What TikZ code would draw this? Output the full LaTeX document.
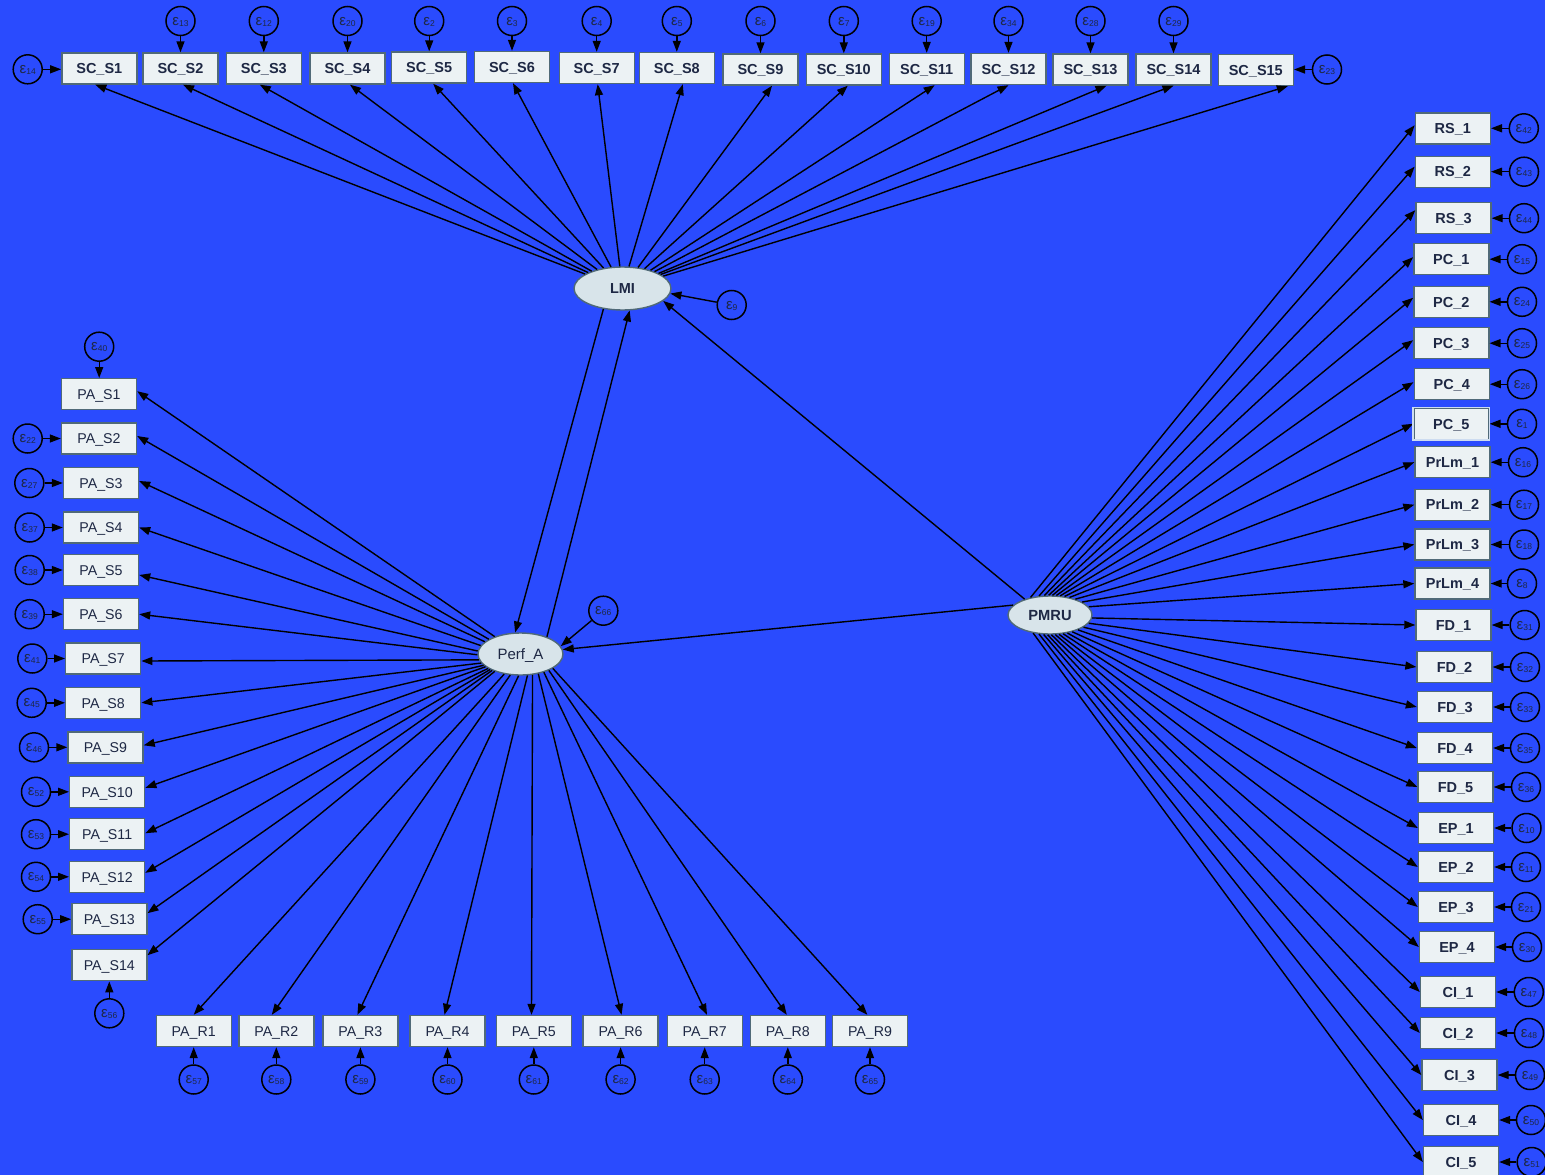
\documentclass[tikz,border=0pt]{standalone}
\usepackage{fontspec}
\setmainfont{Liberation Sans}
\usetikzlibrary{arrows.meta,shapes.geometric}

\definecolor{bg}{RGB}{42,75,254}
\definecolor{boxfill}{RGB}{236,242,244}
\definecolor{boxedge}{RGB}{80,106,120}
\definecolor{edgelight}{RGB}{205,220,240}
\definecolor{latfill}{RGB}{216,228,234}
\definecolor{ink}{RGB}{30,40,68}

% error term label: epsilon with a small index
\newcommand\errlab[1]{ε\raisebox{-1pt}{\fontsize{8.5}{8.5}\selectfont#1}}

\begin{document}
\begin{tikzpicture}[x=1pt,y=-1pt,
  obs/.style={rectangle,draw=boxedge,fill=boxfill,line width=1.4pt,
    minimum width=75pt,minimum height=31pt,inner sep=0pt,text=ink,
    text height=10.5pt,text depth=0pt,
    font=\fontsize{14.5}{16}\selectfont\bfseries},
  obsreg/.style={obs,font=\fontsize{14.2}{16}\selectfont},
  lat/.style={ellipse,draw=boxedge,fill=latfill,line width=1.4pt,inner sep=0pt,
    text=ink,text height=10.5pt,text depth=0pt},
  err/.style={circle,draw=black,line width=1.5pt,minimum size=29pt,inner sep=0pt,
    text=ink,text height=8pt,text depth=0pt,font=\fontsize{15}{15}\selectfont},
  reg/.style={draw=black,line width=1.4pt,-{Triangle[length=11pt,width=8pt]}},
]
\fill[bg] (0,0) rectangle (1545,1175);
\useasboundingbox (0,0) rectangle (1545,1175);

% latent variables
\node[lat,minimum width=97pt,minimum height=43pt,font=\fontsize{14.5}{16}\selectfont\bfseries] (lmi) at (622.5,288.5) {LMI};
\node[lat,minimum width=85pt,minimum height=42pt,font=\fontsize{15}{16}\selectfont] (perf) at (520.5,654) {Perf\_A};
\node[lat,minimum width=84pt,minimum height=38pt,font=\fontsize{14.7}{16}\selectfont\bfseries] (pmru) at (1050,615) {PMRU};

% structural paths and disturbances
\node[err] (e9) at (731.7,305) {\errlab{9}};
\node[err] (e66) at (603.3,610.7) {\errlab{66}};
\draw[reg] (lmi.227) -- (perf.104);
\draw[reg] (perf.33) -- (lmi.288);
\draw[reg] (pmru.148) -- (lmi.343);
\draw[reg] (pmru.165) -- (perf.6);
\draw[reg] (e9) -- (lmi.354);
\draw[reg] (e66) -- (perf.11);

% LMI indicators (top row)
\foreach \n/\x/\y/\dx in {1/99.3/68.5/-4, 2/180.5/68.5/2.5, 3/263.8/68.5/-4,
  4/347.5/68.5/2.5, 5/429.2/67.5/4, 6/512/67/1, 7/596.7/68/1, 8/676.8/68/6,
  9/760.5/69.5/11.5, 10/843.8/69.5/4, 11/926.7/69/8, 12/1008.5/69/0,
  13/1090.5/69.5/16, 14/1173.5/69.5/0, 15/1255.8/70/32}{
  \node[obs] (sc\n) at (\x,\y) {SC\_S\n};
  \draw[reg] (lmi) -- ([xshift=\dx*1pt]sc\n.south);
}
\foreach \n/\x/\e in {2/180.5/13, 3/263.8/12, 4/347.5/20, 5/429.2/2, 6/512/3,
  7/596.7/4, 8/676.8/5, 9/760.5/6, 10/843.8/7, 11/926.7/19, 12/1008.5/34,
  13/1090.5/28, 14/1173.5/29}{
  \node[err] (esc\n) at (\x,21) {\errlab{\e}};
  \draw[reg] (esc\n) -- (esc\n |- sc\n.north);
}
\node[err] (esc1) at (27.7,69.3) {\errlab{14}};
\draw[reg] (esc1) -- (esc1 -| sc1.west);
\node[err] (esc15) at (1327,69.5) {\errlab{23}};
\draw[reg] (esc15) -- (esc15 -| sc15.east);

% PMRU indicators (right column)
\foreach \nm/\lb/\x/\y/\e/\ex/\dy/\a in {
  rs1/RS\_1/1452.8/128.3/42/1523.8/3/138,
  rs2/RS\_2/1452.8/171.7/43/1524/5/120,
  rs3/RS\_3/1453.5/218.2/44/1524/8/106,
  pc1/PC\_1/1451.3/259.2/15/1522/2/94,
  pc2/PC\_2/1451.3/301.8/24/1522/4/83,
  pc3/PC\_3/1451.3/343.2/25/1522/3/72,
  pc4/PC\_4/1451.7/384.2/26/1522/2/62,
  pc5/PC\_5/1451.3/423.8/1/1522/0/52,
  pl1/PrLm\_1/1452.5/462.2/16/1523/0/42,
  pl2/PrLm\_2/1452.5/504.7/17/1524/0/32,
  pl3/PrLm\_3/1452.5/544.5/18/1524/0/22,
  pl4/PrLm\_4/1452.5/583.5/8/1522/0/12,
  fd1/FD\_1/1453.5/625/31/1524.7/0/-4,
  fd2/FD\_2/1454.5/667/32/1525/0/-12,
  fd3/FD\_3/1455/707/33/1525/0/-20,
  fd4/FD\_4/1455/748/35/1525/0/-28,
  fd5/FD\_5/1455.5/787/36/1526/0/-37,
  ep1/EP\_1/1456/828/10/1526.5/0/-46,
  ep2/EP\_2/1456/867/11/1526/0/-55,
  ep3/EP\_3/1456/907/21/1526/0/-65,
  ep4/EP\_4/1457/947/30/1527/0/-75,
  ci1/CI\_1/1458/992/47/1528.8/0/-86,
  ci2/CI\_2/1458/1033/48/1529/0/-97,
  ci3/CI\_3/1459.5/1075/49/1530/0/-108,
  ci4/CI\_4/1461/1120/50/1531/0/-120,
  ci5/CI\_5/1461/1162/51/1531.7/0/-133}{
  \node[obs] (\nm) at (\x,\y) {\lb};
  \node[err] (e\nm) at (\ex,\y) {\errlab{\e}};
  \draw[reg] (e\nm) -- (\nm.east);
  \draw[reg] (pmru.\a) -- ([yshift=\dy*1pt]\nm.west);
}
\draw[edgelight,line width=1.4pt] (pc5.south west) rectangle (pc5.north east);

% Perf_A indicators (left column)
\foreach \n/\x/\y/\e/\ex/\dy/\a in {
  2/99/438.5/22/27.7/2.5/155,
  3/101/483/27/29.3/2/161,
  4/101/527.5/37/29.7/0/168,
  5/101/570/38/29.7/-5/176,
  6/101/614.2/39/29.7/0/181,
  7/103.2/658.5/41/32.3/-2.5/188,
  8/103.2/702.8/45/31.7/0/193,
  9/105.5/747.3/46/34/2/197,
  10/107.2/791.8/52/36/4/200,
  11/107.2/834.2/53/36/1/204,
  12/107.2/876.8/54/36/4/207,
  13/109.3/919.2/55/37.7/6/210}{
  \node[obsreg] (pas\n) at (\x,\y) {PA\_S\n};
  \node[err] (epas\n) at (\ex,\y) {\errlab{\e}};
  \draw[reg] (epas\n) -- (pas\n.west);
  \draw[reg] (perf.\a) -- ([yshift=\dy*1pt]pas\n.east);
}
\node[obsreg] (pas1) at (99,394.2) {PA\_S1};
\node[err] (epas1) at (99.2,346.7) {\errlab{40}};
\draw[reg] (epas1) -- (epas1 |- pas1.north);
\draw[reg] (perf.146) -- ([yshift=3pt]pas1.east);
\node[obsreg] (pas14) at (109.3,965.2) {PA\_S14};
\node[err] (epas14) at (109.3,1013.3) {\errlab{56}};
\draw[reg] (epas14) -- (epas14 |- pas14.south);
\draw[reg] (perf.214) -- ([yshift=10pt]pas14.east);

% Perf_A indicators (bottom row)
\foreach \n/\x/\e/\dx/\a in {1/193.7/57/0/231, 2/276.3/58/-4.5/244,
  3/360.4/59/-3/265, 4/447.5/60/-3/288, 5/533.8/61/-2.3/300,
  6/620.6/62/1/312, 7/704.7/63/2.3/322, 8/787.8/64/-1/330, 9/870/65/-2.6/336}{
  \node[obsreg] (par\n) at (\x,1031) {PA\_R\n};
  \node[err] (epr\n) at (\x,1079.5) {\errlab{\e}};
  \draw[reg] (epr\n) -- (epr\n |- par\n.south);
  \draw[reg] (perf.\a) -- ([xshift=\dx*1pt]par\n.north);
}
\end{tikzpicture}
\end{document}
